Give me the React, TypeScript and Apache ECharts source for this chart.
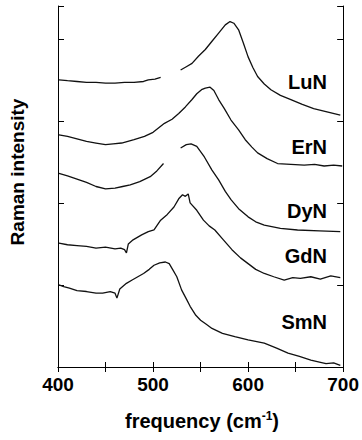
import React, { useEffect, useRef } from "react";
import * as echarts from "echarts";

// Raman spectra (offset vertically), null = gap in the measured curve
const lunFreq = [401, 410, 420, 430, 440, 450, 460, 470, 480, 490, 495, 502, 508, 518, 529, 535, 541, 548, 555, 562, 569, 576, 581, 585, 590, 595, 600, 605, 610, 617, 624, 634, 645, 657, 669, 683, 697];
const lunInt = [3.5, 3.49, 3.48, 3.47, 3.47, 3.46, 3.46, 3.47, 3.47, 3.48, 3.5, 3.51, 3.53, null, 3.62, 3.66, 3.7, 3.79, 3.87, 3.97, 4.07, 4.17, 4.21, 4.19, 4.11, 3.95, 3.78, 3.65, 3.54, 3.45, 3.38, 3.31, 3.26, 3.2, 3.15, 3.11, 3.07];

const ernFreq = [401, 410, 420, 430, 440, 450, 458, 467, 480, 491, 500, 512, 520, 527, 534, 541, 546, 551, 555, 560, 564, 569, 575, 582, 590, 597, 604, 610, 620, 631, 645, 659, 670, 680, 690, 699];
const ernInt = [2.83, 2.81, 2.78, 2.75, 2.73, 2.71, 2.72, 2.73, 2.77, 2.81, 2.86, 2.97, 3.02, 3.09, 3.17, 3.26, 3.33, 3.38, 3.4, 3.41, 3.37, 3.26, 3.15, 3.01, 2.89, 2.77, 2.68, 2.61, 2.54, 2.48, 2.47, 2.46, 2.47, 2.45, 2.46, 2.45];

const dynFreq = [401, 410, 420, 430, 440, 450, 460, 468, 476, 486, 497, 504, 511, 520, 529, 535, 540, 546, 554, 562, 569, 576, 582, 590, 600, 608, 617, 634, 652, 675, 697];
const dynInt = [2.36, 2.33, 2.29, 2.25, 2.2, 2.17, 2.18, 2.2, 2.22, 2.26, 2.32, 2.39, 2.48, null, 2.67, 2.71, 2.72, 2.69, 2.56, 2.4, 2.28, 2.14, 2.04, 1.93, 1.83, 1.77, 1.73, 1.69, 1.67, 1.66, 1.65];

const gdnFreq = [401, 410, 420, 430, 440, 450, 460, 466, 470, 472, 474, 479, 488, 495, 501, 508, 515, 522, 527, 531, 534, 537, 539, 546, 553, 559, 565, 574, 583, 592, 600, 608, 617, 627, 638, 647, 655, 666, 676, 687, 697];
const gdnInt = [1.51, 1.49, 1.48, 1.47, 1.45, 1.46, 1.44, 1.45, 1.43, 1.39, 1.5, 1.55, 1.61, 1.65, 1.67, 1.79, 1.86, 1.95, 2.05, 2.1, 2.08, 2.11, 2.0, 1.91, 1.79, 1.72, 1.67, 1.55, 1.43, 1.33, 1.26, 1.19, 1.14, 1.1, 1.06, 1.09, 1.08, 1.1, 1.07, 1.11, 1.09];

const smnFreq = [401, 406, 412, 420, 430, 440, 447, 455, 460, 462, 465, 472, 478, 484, 490, 496, 501, 507, 513, 517, 521, 525, 530, 535, 539, 545, 550, 556, 562, 573, 586, 600, 617, 630, 642, 654, 666, 675, 682, 690, 697];
const smnInt = [1.0, 0.98, 0.96, 0.93, 0.92, 0.9, 0.9, 0.92, 0.9, 0.84, 0.95, 1.02, 1.06, 1.1, 1.14, 1.19, 1.24, 1.27, 1.28, 1.26, 1.18, 1.1, 0.94, 0.83, 0.74, 0.63, 0.57, 0.52, 0.47, 0.41, 0.37, 0.33, 0.29, 0.23, 0.17, 0.13, 0.085, 0.06, 0.04, 0.05, 0.02];

const sampleNames = ["LuN", "ErN", "DyN", "GdN", "SmN"];
const xTicks = [400, 500, 600, 700];

const FONT = "Liberation Sans, Arial, sans-serif";

function pairs(xs: number[], ys: (number | null)[]) {
  return xs.map((x, i) => [x, ys[i] === null ? "-" : ys[i]]);
}

export default function App() {
  const ref = useRef<HTMLDivElement>(null);
  useEffect(() => {
    if (!ref.current) return;
    const chart = echarts.init(ref.current, null, { renderer: "svg" });
    const allData = [
      pairs(lunFreq, lunInt),
      pairs(ernFreq, ernInt),
      pairs(dynFreq, dynInt),
      pairs(gdnFreq, gdnInt),
      pairs(smnFreq, smnInt),
    ];
    const labelY = [82, 147, 211, 256, 322];
    const axisLine = { show: true, lineStyle: { color: "#000", width: 1 } };
    chart.setOption({
      animation: false,
      backgroundColor: "#fff",
      grid: { left: 58, right: 16, top: 6, bottom: 73, containLabel: false },
      xAxis: [
        {
          type: "value",
          min: 400,
          max: 700,
          interval: 50,
          axisLine,
          axisTick: { show: true, inside: true, length: 5, lineStyle: { color: "#000" } },
          splitLine: { show: false },
          axisLabel: {
            margin: 8,
            color: "#000",
            fontFamily: FONT,
            fontWeight: "bold",
            fontSize: 19,
            formatter: (v: number) => (xTicks.includes(v) ? String(v) : ""),
          },
        },
        {
          type: "value",
          position: "top",
          min: 400,
          max: 700,
          interval: 50,
          axisLine,
          axisTick: { show: true, inside: true, length: 5, lineStyle: { color: "#000" } },
          splitLine: { show: false },
          axisLabel: { show: false },
        },
      ],
      yAxis: [
        {
          type: "value",
          min: 0,
          max: 4.4,
          interval: 1,
          axisLine,
          axisTick: { show: true, inside: true, length: 6, lineStyle: { color: "#000" } },
          splitLine: { show: false },
          axisLabel: { show: false },
        },
        {
          type: "value",
          position: "right",
          min: 0,
          max: 4.4,
          interval: 1,
          axisLine,
          axisTick: { show: true, inside: true, length: 6, lineStyle: { color: "#000" } },
          splitLine: { show: false },
          axisLabel: { show: false },
        },
      ],
      series: allData.map((d, i) => ({
        name: sampleNames[i],
        type: "line",
        data: d,
        showSymbol: false,
        symbol: "none",
        connectNulls: false,
        lineStyle: { color: "#111", width: 1.3 },
        xAxisIndex: 0,
        yAxisIndex: 0,
      })),
      graphic: [
        ...sampleNames.map((n, i) => ({
          type: "text",
          x: 327,
          y: labelY[i],
          style: {
            text: n,
            fill: "#000",
            font: `bold 20px ${FONT}`,
            textAlign: "right",
            textVerticalAlign: "middle",
          },
        })),
        {
          type: "text",
          x: 17,
          y: 172,
          rotation: Math.PI / 2,
          style: {
            text: "Raman intensity",
            fill: "#000",
            font: `bold 19px ${FONT}`,
            textAlign: "center",
            textVerticalAlign: "middle",
          },
        },
        {
          type: "text",
          x: 202,
          y: 421,
          style: {
            text: "{a|frequency (cm}{b|-1}{a|)}",
            textAlign: "center",
            textVerticalAlign: "middle",
            rich: {
              a: { font: `bold 20px ${FONT}`, fill: "#000" },
              b: { font: `bold 12px ${FONT}`, fill: "#000", verticalAlign: "top", padding: [0, 0, 10, 0] },
            },
          },
        },
      ],
    });
    return () => chart.dispose();
  }, []);
  return <div ref={ref} style={{ position: "absolute", left: 0, top: 0, width: 362, height: 440 }} />;
}
